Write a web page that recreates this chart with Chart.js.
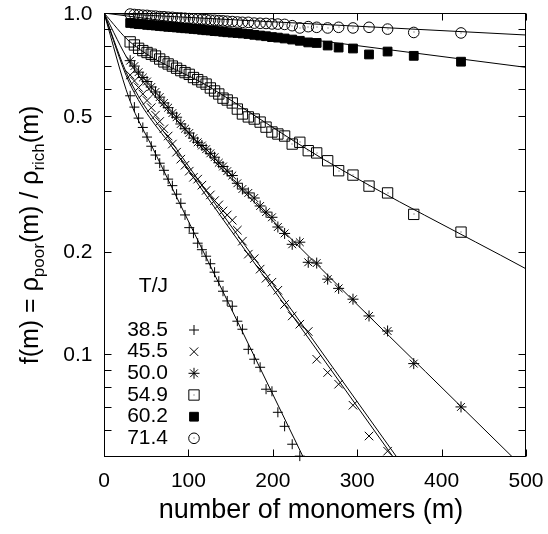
<!DOCTYPE html>
<html>
<head>
<meta charset="utf-8">
<script src="https://cdn.jsdelivr.net/npm/chart.js@4.4.1/dist/chart.umd.min.js"></script>
<style>
    html, body { margin: 0; padding: 0; background: #fff; }
</style>
</head>
<body>
<canvas id="grafico" width="548" height="534"></canvas>
<script>
// numero de monomeros (m) - bins comuns a todas as series
const mGrid = [31, 36, 41, 46, 51, 56, 61, 66, 71, 76, 81, 86, 91, 96, 101, 106, 111, 116, 121, 126,
    131, 136, 141, 146, 152, 158, 164, 171, 178, 185, 192, 199, 206, 214, 223, 232, 242, 252, 265, 278,
    295, 314, 336, 367, 423];

// f(m), uma lista por temperatura T/J
const f385 = [0.572, 0.530, 0.492, 0.462, 0.433, 0.407, 0.3835, 0.363, 0.346, 0.326, 0.312, 0.2945, 0.277, 0.256,
    0.235, 0.2263, 0.2116, 0.2025, 0.1938, 0.1842, 0.174, 0.1637, 0.153, 0.1433, 0.1383, 0.125, 0.1184, 0.1034,
    0.0967, 0.0916, 0.079, 0.0779, 0.0676, 0.0615, 0.0545, 0.0503];
const f455 = [0.658, 0.632, 0.605, 0.579, 0.554, 0.528, 0.502, 0.481, 0.458, 0.436, 0.413, 0.391, 0.373, 0.358,
    0.344, 0.330, 0.326, 0.313, 0.302, 0.293, 0.282, 0.274, 0.263, 0.256, 0.247, 0.231, 0.2145, 0.1965, 0.1906,
    0.1776, 0.167, 0.1626, 0.154, 0.140, 0.1295, 0.1225, 0.1166, 0.0967, 0.0884, 0.0817, 0.0709, 0.0576, 0.0520];
const f500 = [0.725, 0.699, 0.671, 0.647, 0.630, 0.607, 0.587, 0.567, 0.545, 0.528, 0.509, 0.495, 0.473, 0.458,
    0.445, 0.430, 0.418, 0.409, 0.399, 0.388, 0.378, 0.364, 0.355, 0.344, 0.334, 0.317, 0.305, 0.297, 0.287,
    0.272, 0.261, 0.252, 0.236, 0.226, 0.210, 0.213, 0.186, 0.185, 0.166, 0.156, 0.145, 0.1295, 0.117, 0.0939, 0.0701];
const f549 = [0.823, 0.806, 0.788, 0.776, 0.766, 0.757, 0.748, 0.733, 0.719, 0.709, 0.699, 0.689, 0.678, 0.669,
    0.661, 0.647, 0.638, 0.628, 0.619, 0.603, 0.591, 0.579, 0.563, 0.556, 0.545, 0.523, 0.506, 0.496, 0.489,
    0.479, 0.463, 0.448, 0.442, 0.436, 0.413, 0.418, 0.395, 0.389, 0.369, 0.345, 0.335, 0.311, 0.297, 0.257, 0.228];
const f602 = [0.935, 0.932, 0.928, 0.927, 0.923, 0.921, 0.919, 0.916, 0.914, 0.911, 0.910, 0.907, 0.905, 0.902,
    0.901, 0.898, 0.896, 0.893, 0.890, 0.889, 0.885, 0.884, 0.881, 0.878, 0.876, 0.874, 0.871, 0.868, 0.863,
    0.859, 0.855, 0.850, 0.847, 0.842, 0.836, 0.829, 0.820, 0.817, 0.803, 0.792, 0.787, 0.756, 0.771, 0.749, 0.720];
const f714 = [0.993, 0.990, 0.988, 0.985, 0.984, 0.980, 0.979, 0.976, 0.975, 0.972, 0.971, 0.968, 0.967, 0.965,
    0.963, 0.961, 0.960, 0.957, 0.956, 0.953, 0.952, 0.950, 0.948, 0.946, 0.944, 0.941, 0.939, 0.939, 0.934,
    0.933, 0.932, 0.929, 0.928, 0.926, 0.918, 0.904, 0.912, 0.908, 0.904, 0.908, 0.904, 0.908, 0.897, 0.877, 0.874];

// curvas ajustadas (lidas ao longo das linhas)
const ajusteM385 = [0, 30, 58.4, 145.3, 250];
const ajusteF385 = [1, 0.56, 0.399, 0.145, 0.0424];
const ajusteM455 = [0, 30, 86, 248, 360];
const ajusteF455 = [1, 0.64, 0.399, 0.110, 0.045];
const ajusteF455b = [1, 0.625, 0.388, 0.1065, 0.0435];
const ajusteM500 = [0, 31, 100, 252, 424, 500];
const ajusteF500 = [1, 0.713, 0.4446, 0.1836, 0.0699, 0.0457];
const ajusteM549 = [0, 31, 125.6, 259.8, 500];
const ajusteF549 = [1, 0.822, 0.606, 0.373, 0.178];
const ajusteM602 = [0, 500];
const ajusteF602 = [1, 0.693];
const ajusteM714 = [0, 500];
const ajusteF714 = [1, 0.862];

const temperaturas = ['38.5', '45.5', '50.0', '54.9', '60.2', '71.4'];
const yTicks = [0.06, 0.07, 0.08, 0.09, 0.1, 0.2, 0.3, 0.4, 0.5, 0.6, 0.7, 0.8, 0.9, 1.0];
const yRotulos = [0.1, 0.2, 0.5, 1.0];
const xTicks = [0, 100, 200, 300, 400, 500];

const fonte = "'Liberation Sans', Arial, Helvetica, sans-serif";

function pontos(ms, fs) {
    return fs.map(function (f, i) { return { x: ms[i], y: f }; });
}

const vazio = 'rgba(0,0,0,0)';
const simbolos = [
    { pointStyle: 'cross', radius: 5, fill: vazio },
    { pointStyle: 'crossRot', radius: 6, fill: vazio },
    { pointStyle: 'star', radius: 5.5, fill: vazio },
    { pointStyle: 'rect', radius: 7.3, fill: vazio, ponto: true },
    { pointStyle: 'rect', radius: 6.2, fill: '#000' },
    { pointStyle: 'circle', radius: 5.3, fill: vazio, ponto: true }
];

function serie(label, fs, i) {
    return {
        label: label,
        data: pontos(mGrid, fs),
        showLine: false,
        pointStyle: simbolos[i].pointStyle,
        pointRadius: simbolos[i].radius,
        pointBorderWidth: 1,
        borderColor: '#000',
        backgroundColor: simbolos[i].fill,
        clip: false
    };
}

function ajuste(ms, fs) {
    return {
        data: pontos(ms, fs),
        showLine: true,
        pointRadius: 0,
        borderWidth: 1,
        borderColor: '#000',
        backgroundColor: '#000',
        cubicInterpolationMode: 'monotone',
        fill: false
    };
}

const molduraPlugin = {
    id: 'moldura',
    afterDatasetsDraw(chart) {
        // pontinho central dos quadrados e circulos abertos
        const ctx = chart.ctx;
        ctx.save();
        ctx.fillStyle = '#444';
        chart.data.datasets.forEach(function (ds, d) {
            var idx = temperaturas.indexOf(ds.label);
            if (idx < 0 || !simbolos[idx].ponto) return;
            chart.getDatasetMeta(d).data.forEach(function (p) {
                ctx.fillRect(Math.round(p.x) - 0.5, Math.round(p.y) - 0.5, 1, 1);
            });
        });
        ctx.restore();
    },
    afterDraw(chart) {
        const { ctx, chartArea: { left, right, top, bottom }, scales: { x, y } } = chart;
        ctx.save();
        ctx.strokeStyle = '#000';
        ctx.lineWidth = 1;

        var L = Math.round(left) + 0.5, R = Math.round(right) - 0.5;
        var T = Math.round(top) + 0.5, B = Math.round(bottom) - 0.5;
        ctx.strokeRect(L, T, R - L, B - T);

        // ticks para dentro, espelhados
        ctx.beginPath();
        yTicks.forEach(function (v) {
            var py = Math.round(y.getPixelForValue(v)) + 0.5;
            ctx.moveTo(L, py); ctx.lineTo(L + 7, py);
            ctx.moveTo(R, py); ctx.lineTo(R - 7, py);
        });
        xTicks.forEach(function (v) {
            var px = Math.round(x.getPixelForValue(v)) + 0.5;
            ctx.moveTo(px, B); ctx.lineTo(px, B - 7);
            ctx.moveTo(px, T); ctx.lineTo(px, T + 7);
        });
        ctx.stroke();

        // rotulos dos ticks
        ctx.fillStyle = '#000';
        ctx.font = '21px ' + fonte;
        ctx.textAlign = 'right';
        ctx.textBaseline = 'middle';
        yRotulos.forEach(function (v) {
            ctx.fillText(v.toFixed(1), L - 12, y.getPixelForValue(v) + 1);
        });
        ctx.textAlign = 'center';
        xTicks.forEach(function (v) {
            ctx.fillText(String(v), x.getPixelForValue(v), 481);
        });

        // legenda
        ctx.textAlign = 'right';
        ctx.fillText('T/J', 168, 286);
        var linhas = [330, 351.7, 373.3, 395, 416.7, 438.3];
        temperaturas.forEach(function (t, i) {
            ctx.fillStyle = '#000';
            ctx.fillText(t, 168, linhas[i]);
            ctx.fillStyle = simbolos[i].fill;
            Chart.helpers.drawPoint(ctx, { pointStyle: simbolos[i].pointStyle, radius: simbolos[i].radius, borderWidth: 1, rotation: 0 }, 194, linhas[i]);
            if (simbolos[i].ponto) {
                ctx.fillStyle = '#444';
                ctx.fillRect(193.5, Math.round(linhas[i]) - 0.5, 1, 1);
            }
        });

        // titulo do eixo x
        ctx.fillStyle = '#000';
        ctx.textAlign = 'center';
        ctx.textBaseline = 'alphabetic';
        ctx.font = '27px ' + fonte;
        ctx.fillText('number of monomers (m)', 311, 518);

        // titulo do eixo y com subscritos
        var partes = [
            { t: 'f(m) = \u03c1', sub: false },
            { t: 'poor', sub: true },
            { t: '(m) / \u03c1', sub: false },
            { t: 'rich', sub: true },
            { t: '(m)', sub: false }
        ];
        var total = 0;
        partes.forEach(function (p) {
            ctx.font = (p.sub ? '17px ' : '25px ') + fonte;
            p.w = ctx.measureText(p.t).width;
            total += p.w;
        });
        ctx.translate(38, 235);
        ctx.rotate(-Math.PI / 2);
        ctx.textAlign = 'left';
        var pos = -total / 2;
        partes.forEach(function (p) {
            ctx.font = (p.sub ? '17px ' : '25px ') + fonte;
            ctx.fillText(p.t, pos, p.sub ? 6 : 0);
            pos += p.w;
        });
        ctx.restore();
    }
};

const dados = {
    datasets: [
        ajuste(ajusteM385, ajusteF385),
        ajuste(ajusteM455, ajusteF455),
        ajuste(ajusteM455, ajusteF455b),
        ajuste(ajusteM500, ajusteF500),
        ajuste(ajusteM549, ajusteF549),
        ajuste(ajusteM602, ajusteF602),
        ajuste(ajusteM714, ajusteF714),
        serie(temperaturas[0], f385, 0),
        serie(temperaturas[1], f455, 1),
        serie(temperaturas[2], f500, 2),
        serie(temperaturas[3], f549, 3),
        serie(temperaturas[4], f602, 4),
        serie(temperaturas[5], f714, 5)
    ]
};

var grafico = new Chart(document.getElementById('grafico'), {
    type: 'scatter',
    data: dados,
    options: {
        responsive: false,
        animation: false,
        devicePixelRatio: 1,
        layout: { padding: { top: 13, right: 22, left: 0, bottom: 0 } },
        plugins: { legend: { display: false }, tooltip: { enabled: false } },
        scales: {
            x: {
                type: 'linear',
                min: 0,
                max: 500,
                grid: { display: false, drawTicks: false },
                border: { display: false },
                ticks: { display: false },
                afterFit(s) { s.height = 77; }
            },
            y: {
                type: 'logarithmic',
                min: 0.05,
                max: 1,
                grid: { display: false, drawTicks: false },
                border: { display: false },
                ticks: { display: false },
                afterFit(s) { s.width = 104; }
            }
        }
    },
    plugins: [molduraPlugin]
});
</script>
</body>
</html>
